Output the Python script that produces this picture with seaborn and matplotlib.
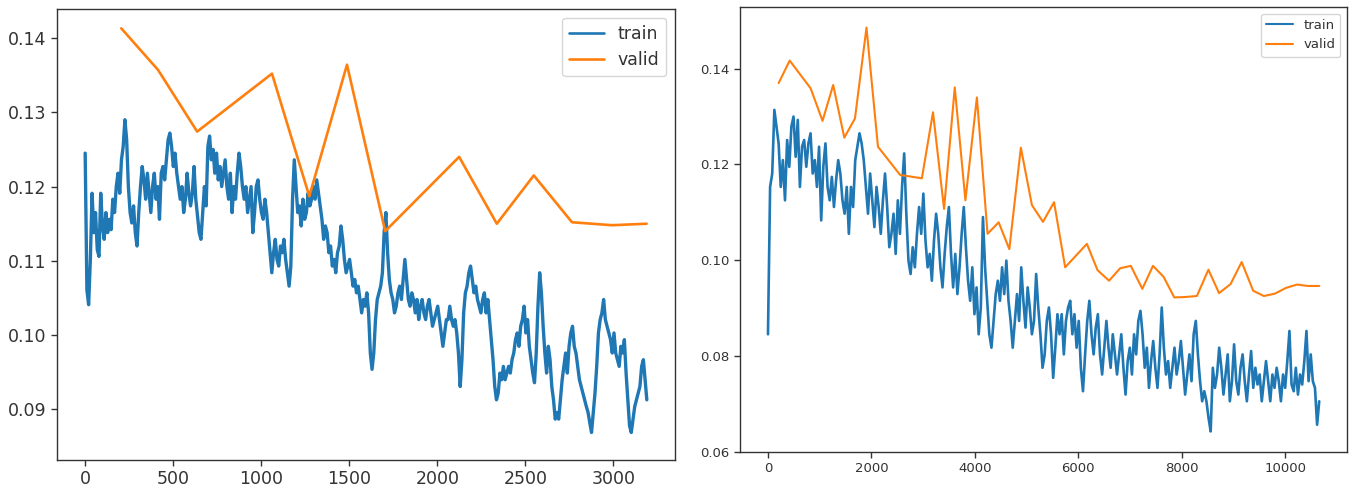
import numpy as np
import matplotlib
matplotlib.use("Agg")
import matplotlib.pyplot as plt
import seaborn as sns

# ---------------- data: left run ----------------
train_a_last_step = 3190
train_a_loss = [
    0.1245, 0.1061, 0.1041, 0.1102, 0.1191, 0.1138, 0.1165, 0.1115, 0.1106, 0.1191, 0.1147,
    0.1129, 0.1165, 0.1138, 0.1156, 0.1142, 0.1183, 0.1165, 0.1200, 0.1218, 0.1191, 0.1236, 0.1254, 0.1290,
    0.1263, 0.1200, 0.1165, 0.1151, 0.1174, 0.1138, 0.1120, 0.1165, 0.1200, 0.1227, 0.1209, 0.1183, 0.1218,
    0.1191, 0.1165, 0.1200, 0.1218, 0.1183, 0.1200, 0.1156, 0.1218, 0.1227, 0.1209, 0.1236, 0.1263, 0.1272,
    0.1254, 0.1227, 0.1245, 0.1218, 0.1200, 0.1183, 0.1200, 0.1165, 0.1183, 0.1218, 0.1191, 0.1174, 0.1191,
    0.1227, 0.1183, 0.1160, 0.1138, 0.1129, 0.1165, 0.1200, 0.1174, 0.1254, 0.1268, 0.1236, 0.1250, 0.1218,
    0.1245, 0.1209, 0.1227, 0.1200, 0.1218, 0.1236, 0.1200, 0.1183, 0.1218, 0.1165, 0.1200, 0.1183, 0.1218,
    0.1245, 0.1227, 0.1200, 0.1183, 0.1200, 0.1165, 0.1183, 0.1200, 0.1138, 0.1165, 0.1200, 0.1209, 0.1183,
    0.1165, 0.1156, 0.1183, 0.1165, 0.1138, 0.1111, 0.1084, 0.1111, 0.1129, 0.1102, 0.1093, 0.1120, 0.1111,
    0.1129, 0.1102, 0.1084, 0.1066, 0.1093, 0.1183, 0.1236, 0.1200, 0.1165,
    0.1174, 0.1147, 0.1183, 0.1156, 0.1165, 0.1191, 0.1174, 0.1183, 0.1200, 0.1183, 0.1209, 0.1191, 0.1174,
    0.1156, 0.1129, 0.1147, 0.1138, 0.1111, 0.1120, 0.1093, 0.1102, 0.1084, 0.1111, 0.1120, 0.1147, 0.1129,
    0.1102, 0.1084, 0.1093, 0.1102, 0.1084, 0.1066, 0.1075, 0.1057, 0.1066, 0.1048, 0.1030, 0.1048, 0.1039,
    0.1057, 0.1030, 0.0976, 0.0954, 0.0976, 0.1021, 0.1048, 0.1057, 0.1066, 0.1084, 0.1138, 0.1165, 0.1111,
    0.1075, 0.1057, 0.1048, 0.1030, 0.1039, 0.1057, 0.1066, 0.1048, 0.1075, 0.1102, 0.1075, 0.1048, 0.1039,
    0.1057, 0.1048, 0.1030, 0.1048, 0.1021, 0.1039, 0.1048, 0.1030, 0.1021, 0.1039, 0.1048, 0.1030, 0.1012,
    0.1021, 0.1030, 0.1039, 0.1021, 0.1003, 0.0985, 0.1003, 0.1021, 0.1021, 0.1039, 0.1021, 0.1012, 0.1021,
    0.1003, 0.0976, 0.0931, 0.0967, 0.1030, 0.1057, 0.1066, 0.1084, 0.1093, 0.1075, 0.1057, 0.1066, 0.1048,
    0.1039, 0.1030, 0.1048, 0.1057, 0.1030, 0.1048, 0.1021, 0.0994, 0.0967, 0.0931, 0.0913, 0.0922, 0.0949,
    0.0940, 0.0958, 0.0940, 0.0949, 0.0958, 0.0949, 0.0967, 0.0976, 0.0994, 0.1003, 0.0985, 0.1012, 0.1021,
    0.1039, 0.1003, 0.1021, 0.0985, 0.0967, 0.0949, 0.0936, 0.0976, 0.1039, 0.1084, 0.1057, 0.1012, 0.0976,
    0.0949, 0.0985, 0.0967, 0.0931, 0.0913, 0.0887, 0.0896, 0.0887, 0.0913, 0.0940, 0.0958, 0.0976, 0.0949,
    0.0985, 0.1003, 0.1012, 0.0985, 0.0976, 0.0958, 0.0940, 0.0931, 0.0922, 0.0913, 0.0904, 0.0896, 0.0882,
    0.0869, 0.0896, 0.0922, 0.0958, 0.1003, 0.1021, 0.1030, 0.1048, 0.1021, 0.1012, 0.1003, 0.0994, 0.0976,
    0.1003, 0.0976, 0.0967, 0.0958, 0.0985, 0.0976, 0.0994, 0.0949, 0.0913, 0.0878, 0.0869, 0.0887, 0.0904,
    0.0913, 0.0922, 0.0931, 0.0958, 0.0967, 0.0940, 0.0913,
]
valid_a_step = [205, 414, 636, 1061, 1273, 1487, 1704, 2124, 2338, 2548, 2765, 2992, 3189]
valid_a_loss = [0.1413, 0.1357, 0.1274, 0.1352, 0.1187, 0.1364, 0.1140, 0.1240, 0.1150,
                0.1215, 0.1152, 0.1148, 0.1150]

# ---------------- data: right run ----------------
train_b_last_step = 10660
train_b_loss = [
    0.0845, 0.1153, 0.1181, 0.1314, 0.1279, 0.1244, 0.1153, 0.1209, 0.1125, 0.1251, 0.1195, 0.1279,
    0.1300, 0.1216, 0.1293, 0.1153, 0.1237, 0.1251, 0.1195, 0.1244, 0.1265, 0.1181, 0.1209, 0.1153,
    0.1237, 0.1083, 0.1195, 0.1244, 0.1153, 0.1125, 0.1174, 0.1111, 0.1167, 0.1209, 0.1181, 0.1125,
    0.1097, 0.1153, 0.1055, 0.1153, 0.1111, 0.1209, 0.1237, 0.1265, 0.1244, 0.1209, 0.1153, 0.1097,
    0.1181, 0.1125, 0.1069, 0.1153, 0.1111, 0.1055, 0.1125, 0.1181, 0.1111, 0.1027, 0.1055, 0.1097,
    0.1013, 0.1125, 0.1055, 0.1153, 0.1223, 0.1097, 0.0999, 0.0971, 0.1027, 0.0985, 0.1055, 0.1111,
    0.1055, 0.1139, 0.1041, 0.0985, 0.1013, 0.0957, 0.1041, 0.1097, 0.1055, 0.0985, 0.0943, 0.1013,
    0.1069, 0.1111, 0.1013, 0.0943, 0.1013, 0.0929, 0.0985, 0.1055, 0.1111, 0.1027, 0.0957, 0.0915,
    0.0985, 0.0887, 0.0943, 0.0845, 0.0901, 0.1090, 0.0985, 0.0915, 0.0845, 0.0817, 0.0873, 0.0929,
    0.0957, 0.0915, 0.0985, 0.0929, 0.0999, 0.0915, 0.0873, 0.0817, 0.0873, 0.0929, 0.0873, 0.0985,
    0.0915, 0.0859, 0.0943, 0.0901, 0.0845, 0.0873, 0.0971, 0.0901, 0.0845, 0.0775, 0.0803, 0.0873,
    0.0901, 0.0845, 0.0754, 0.0817, 0.0887, 0.0845, 0.0887, 0.0803, 0.0873, 0.0901, 0.0915, 0.0845,
    0.0887, 0.0817, 0.0873, 0.0775, 0.0726, 0.0803, 0.0873, 0.0915, 0.0845, 0.0803, 0.0859, 0.0887,
    0.0803, 0.0761, 0.0817, 0.0873, 0.0817, 0.0775, 0.0845, 0.0803, 0.0761, 0.0803, 0.0845, 0.0775,
    0.0719, 0.0789, 0.0817, 0.0761, 0.0845, 0.0803, 0.0873, 0.0894, 0.0845, 0.0775, 0.0817, 0.0733,
    0.0789, 0.0831, 0.0775, 0.0733, 0.0803, 0.0901, 0.0817, 0.0761, 0.0789, 0.0733, 0.0775, 0.0817,
    0.0761, 0.0789, 0.0831, 0.0775, 0.0719, 0.0761, 0.0803, 0.0747, 0.0845, 0.0873, 0.0803, 0.0747,
    0.0705, 0.0726, 0.0705, 0.0670, 0.0642, 0.0775, 0.0733, 0.0761, 0.0817, 0.0775, 0.0719, 0.0761,
    0.0803, 0.0705, 0.0747, 0.0824, 0.0747, 0.0719, 0.0775, 0.0803, 0.0747, 0.0705, 0.0761, 0.0810,
    0.0733, 0.0775, 0.0740, 0.0761, 0.0705, 0.0747, 0.0789, 0.0747, 0.0705, 0.0761, 0.0733, 0.0775,
    0.0747, 0.0705, 0.0761, 0.0733, 0.0789, 0.0852, 0.0740, 0.0726, 0.0775, 0.0719, 0.0761, 0.0740,
    0.0789, 0.0852, 0.0747, 0.0803, 0.0747, 0.0733, 0.0656, 0.0705,
]
valid_b_step = [206, 420, 825, 1055, 1261, 1476, 1682, 1905, 2127, 2556, 2976, 3191, 3405, 3612,
                3818, 4040, 4246, 4461, 4667, 4890, 5104, 5318, 5532, 5747, 6167, 6373, 6596, 6810,
                7016, 7239, 7445, 7651, 7857, 8080, 8294, 8517, 8723, 8946, 9160, 9383, 9589, 9803,
                10018, 10232, 10438, 10661]
valid_b_loss = [0.1370, 0.1417, 0.1359, 0.1291, 0.1366, 0.1256, 0.1296, 0.1486, 0.1237, 0.1178,
                0.1171, 0.1309, 0.1107, 0.1361, 0.1125, 0.1340, 0.1055, 0.1079, 0.1023, 0.1235,
                0.1115, 0.1080, 0.1121, 0.0985, 0.1034, 0.0979, 0.0957, 0.0983, 0.0988, 0.0940,
                0.0988, 0.0965, 0.0922, 0.0923, 0.0925, 0.0980, 0.0931, 0.0950, 0.0996, 0.0936,
                0.0925, 0.0930, 0.0942, 0.0949, 0.0946, 0.0946]

series_labels = ["train", "valid"]

# ---------------- drawing ----------------
sns.set_style("ticks")
plt.rcParams['font.family'] = ['DejaVu Sans']

W, H = 1349, 486
fig = plt.figure(figsize=(W / 100, H / 100), dpi=100)

def px_axes(l, r, t, b):
    return fig.add_axes([l / W, 1 - b / H, (r - l) / W, (b - t) / H])

blue, orange = "#1f77b4", "#ff7f0e"

def draw(ax, tsteps, tloss, vsteps, vloss, lw_t, lw_v, fs):
    sns.lineplot(x=tsteps, y=tloss, ax=ax, color=blue, lw=lw_t, label=series_labels[0],
                 estimator=None, sort=False)
    sns.lineplot(x=vsteps, y=vloss, ax=ax, color=orange, lw=lw_v, label=series_labels[1],
                 estimator=None, sort=False)
    ax.set_xlabel("")
    ax.set_ylabel("")
    ax.tick_params(labelsize=fs, colors="#333333", length=4, width=1)
    for s in ax.spines.values():
        s.set_color("#333333")
        s.set_linewidth(1.0)
    leg = ax.legend(loc="upper right", fontsize=fs, frameon=True)
    leg.get_frame().set_edgecolor("#cccccc")
    for line in leg.get_lines():
        line.set_linewidth(lw_v)
    for t in leg.get_texts():
        t.set_color("#333333")

ax1 = px_axes(57, 675, 9, 460)
xa = np.linspace(0, train_a_last_step, len(train_a_loss))
draw(ax1, xa, train_a_loss, valid_a_step, valid_a_loss, 2.4, 1.9, 12.5)
ax1.set_xlim(-160, 3350)
ax1.set_ylim(0.0832, 0.1439)
ax1.set_xticks([0, 500, 1000, 1500, 2000, 2500, 3000])
ax1.set_yticks([0.09, 0.10, 0.11, 0.12, 0.13, 0.14])
ax1.yaxis.set_major_formatter(matplotlib.ticker.FormatStrFormatter("%.2f"))

ax2 = px_axes(740, 1347, 7, 452)
xb = np.linspace(0, train_b_last_step, len(train_b_loss))
draw(ax2, xb, train_b_loss, valid_b_step, valid_b_loss, 1.9, 1.5, 9.5)
ax2.set_xlim(-541, 11197)
ax2.set_ylim(0.0599, 0.1529)
ax2.set_xticks([0, 2000, 4000, 6000, 8000, 10000])
ax2.set_yticks([0.06, 0.08, 0.10, 0.12, 0.14])
ax2.yaxis.set_major_formatter(matplotlib.ticker.FormatStrFormatter("%.2f"))

fig.savefig("out.png", dpi=100)
